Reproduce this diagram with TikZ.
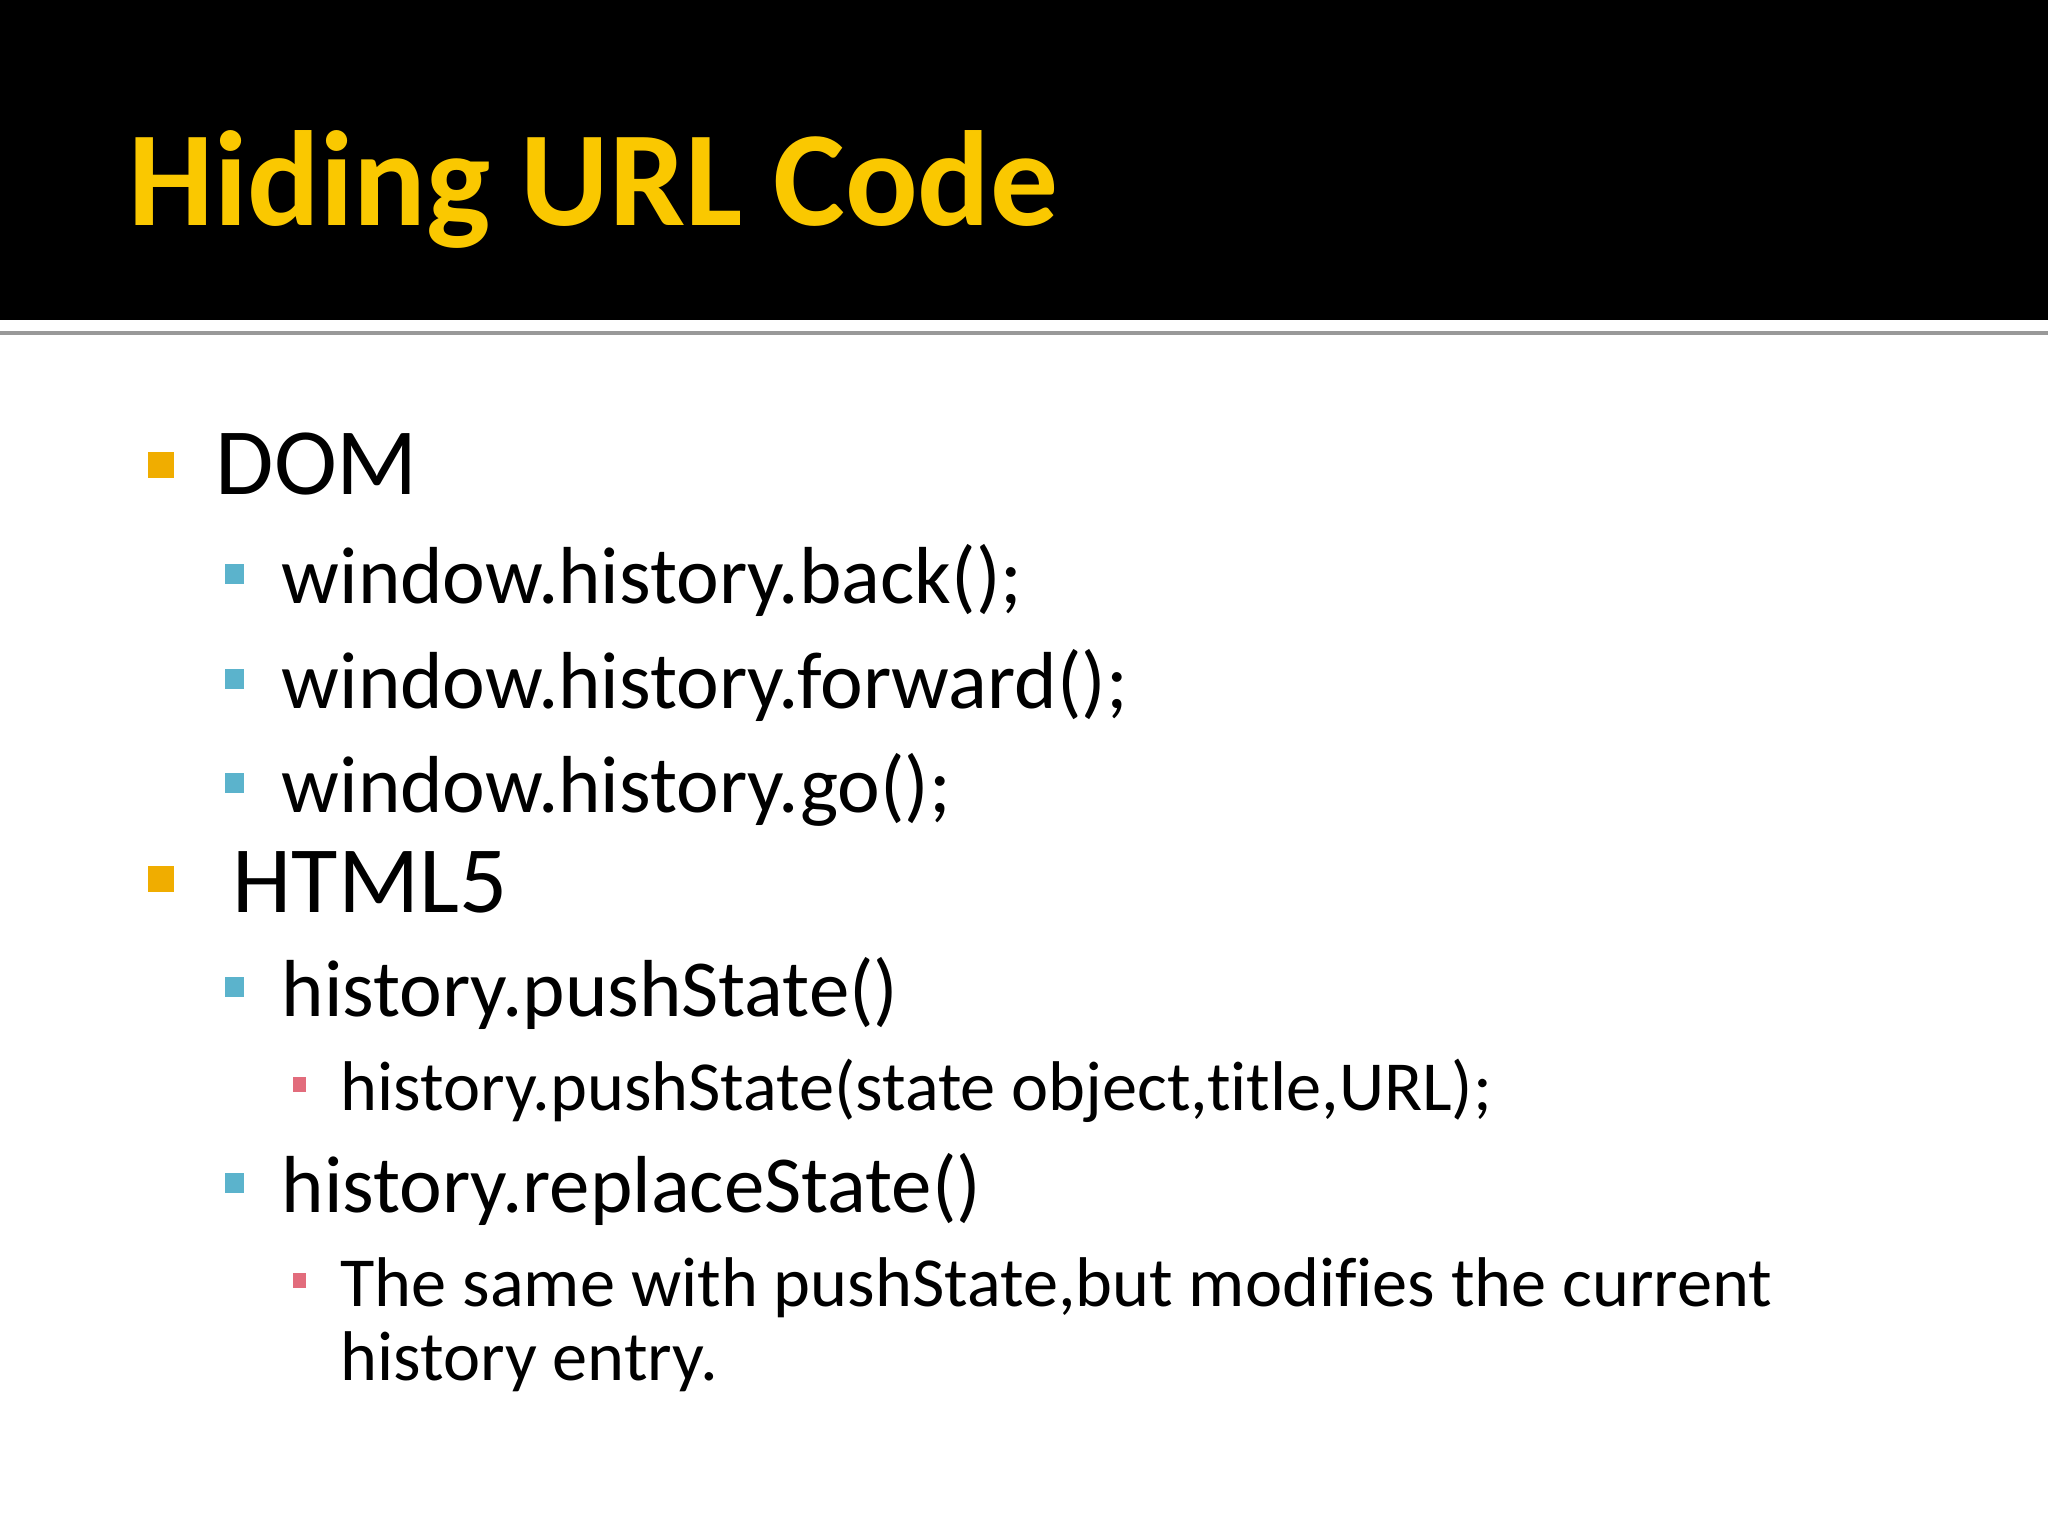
\documentclass[tikz,border=0pt]{standalone}
\usepackage{fontspec}
\setmainfont{Carlito}[Ligatures=NoCommon]
\definecolor{titlegold}{RGB}{250,200,0}
\definecolor{bulorange}{RGB}{240,173,0}
\definecolor{bulcyan}{RGB}{91,179,204}
\definecolor{bulpink}{RGB}{226,108,124}
\begin{document}
\begin{tikzpicture}[x=0.01cm,y=-0.01cm,
  title/.style={anchor=base west, inner sep=0pt, text=titlegold, font=\fontsize{38.5}{46}\selectfont\bfseries},
  lvlone/.style={anchor=base west, inner sep=0pt, font=\fontsize{27}{32}\selectfont},
  lvltwo/.style={anchor=base west, inner sep=0pt, font=\fontsize{23}{28}\selectfont},
  lvlthree/.style={anchor=base west, inner sep=0pt, font=\fontsize{20}{24}\selectfont}]
\useasboundingbox (0,0) rectangle (2048,1536);
% header band
\fill[black] (0,0) rectangle (2048,320);
\fill[black!40] (0,331) rectangle (2048,335);
\node[title] (head) at (128,225) {Hiding URL Code};
% bullets
\fill[bulorange] (148,452) rectangle (174,478);
\node[lvlone] (dom) at (215,494) {DOM};
\fill[bulcyan] (225,564) rectangle (244,584);
\node[lvltwo] (back) at (281,603) {window.history.back();};
\fill[bulcyan] (225,669) rectangle (244,689);
\node[lvltwo] (fwd) at (281,708) {window.history.forward();};
\fill[bulcyan] (225,773) rectangle (244,793);
\node[lvltwo] (go) at (281,812) {window.history.go();};
\fill[bulorange] (148,866) rectangle (174,892);
\node[lvlone] (html) at (232,912) {HTML5};
\fill[bulcyan] (225,977) rectangle (244,997);
\node[lvltwo] (push) at (281,1016) {history.pushState()};
\fill[bulpink] (293,1077) rectangle (306,1092);
\node[lvlthree] (pushsig) at (340,1110) {history.pushState(state object,title,URL);};
\fill[bulcyan] (225,1173) rectangle (244,1193);
\node[lvltwo] (repl) at (281,1212) {history.replaceState()};
\fill[bulpink] (293,1273) rectangle (306,1288);
\node[lvlthree] (same) at (340,1306) {The same with pushState,but modifies the current};
\node[lvlthree] (entry) at (340,1380) {history entry.};
\end{tikzpicture}
\end{document}
